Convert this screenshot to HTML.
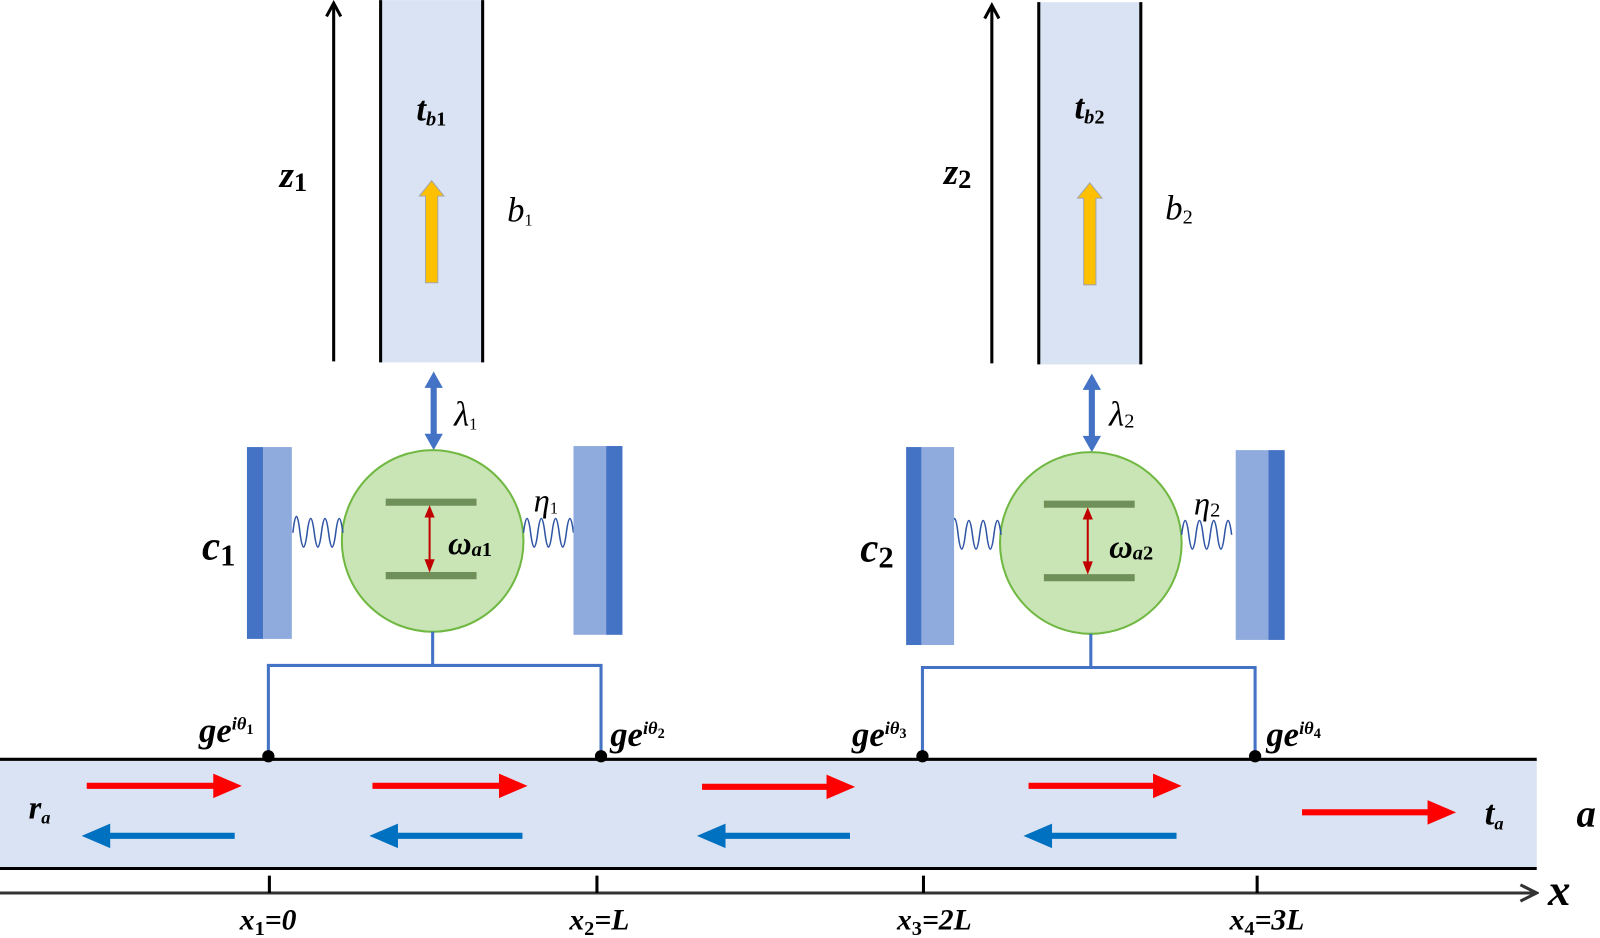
<!DOCTYPE html>
<html><head><style>html,body{margin:0;padding:0;background:#fff}svg{display:block}
svg text{font-family:"Liberation Serif","DejaVu Serif",serif !important;font-style:italic;font-weight:bold}</style></head><body>
<svg width="1600" height="938" viewBox="0 0 1568 919" xmlns="http://www.w3.org/2000/svg" font-family="Liberation Serif, DejaVu Serif, serif">
<defs>
<marker id="ah" markerWidth="14" markerHeight="14" refX="7" refY="2" orient="auto-start-reverse" markerUnits="userSpaceOnUse"><path d="M1,12 L7,1 L13,12" fill="none" stroke="#000" stroke-width="2.5"/></marker>
<marker id="ax" markerWidth="20" markerHeight="20" refX="18" refY="10" orient="auto" markerUnits="userSpaceOnUse"><path d="M2,2 L18,10 L2,18" fill="none" stroke="#333" stroke-width="3"/></marker>
<g id="unit">
<line x1="327" y1="354" x2="327" y2="4" stroke="#000" stroke-width="3"/>
<path d="M320,16 L327,3 L334,16" fill="none" stroke="#000" stroke-width="3"/>
<rect x="372" y="0" width="102" height="355" fill="#dae3f3"/>
<line x1="373" y1="0" x2="373" y2="355" stroke="#000" stroke-width="3"/>
<line x1="473" y1="0" x2="473" y2="355" stroke="#000" stroke-width="3"/>
<path d="M417,277 L417,192 L411,192 L423,177 L435,192 L429,192 L429,277 Z" fill="#ffc000" stroke="#a5a5a5" stroke-width="1"/>
<line x1="425" y1="378" x2="425" y2="427" stroke="#4472c4" stroke-width="6"/>
<path d="M416,380 L425,364 L434,380 Z M416,425 L425,441 L434,425 Z" fill="#4472c4"/>
<circle cx="424" cy="530" r="89" fill="#c9e5b6" stroke="#70b842" stroke-width="2"/>
<line x1="378" y1="492" x2="467" y2="492" stroke="#70905a" stroke-width="7"/>
<line x1="378" y1="564" x2="467" y2="564" stroke="#70905a" stroke-width="7"/>
<line x1="421" y1="505" x2="421" y2="550" stroke="#c00000" stroke-width="2"/>
<path d="M416,507 L421,495 L426,507 Z M416,548 L421,561 L426,548 Z" fill="#c00000"/>
<path d="M287,522 q3.5,-32 7,0 q3.5,28 7,0 q3.5,-28 7,0 q3.5,28 7,0 q3.5,-28 7,0 q3.5,28 7,0 q3.5,-28 7,0" fill="none" stroke="#2f55a4" stroke-width="1.5"/>
<path d="M513,522 q3.5,-28 7,0 q3.5,28 7,0 q3.5,-28 7,0 q3.5,28 7,0 q3.5,-28 7,0 q3.5,28 7,0 q3.5,-28 7,0" fill="none" stroke="#2f55a4" stroke-width="1.5"/>
<line x1="424" y1="619" x2="424" y2="652" stroke="#4472c4" stroke-width="3"/>
</g>
</defs>
<use href="#unit"/>
<use href="#unit" transform="translate(645,2)"/>
<polyline points="263,741 263,652 589,652 589,741" fill="none" stroke="#4472c4" stroke-width="3"/>
<polyline points="904,741 904,654 1230,654 1230,741" fill="none" stroke="#4472c4" stroke-width="3"/>
<!-- mirrors -->
<rect x="242" y="438" width="16" height="188" fill="#4472c4"/><rect x="258" y="438" width="28" height="188" fill="#8faadc"/>
<rect x="562" y="437" width="32" height="185" fill="#8faadc"/><rect x="594" y="437" width="16" height="185" fill="#4472c4"/>
<rect x="888" y="438" width="15" height="194" fill="#4472c4"/><rect x="903" y="438" width="32" height="194" fill="#8faadc"/>
<rect x="1211" y="441" width="32" height="186" fill="#8faadc"/><rect x="1243" y="441" width="16" height="186" fill="#4472c4"/>
<!-- waveguide a -->
<rect x="0" y="744" width="1506" height="107" fill="#dae3f3"/>
<line x1="0" y1="744" x2="1506" y2="744" stroke="#000" stroke-width="3"/>
<line x1="0" y1="851" x2="1506" y2="851" stroke="#000" stroke-width="3"/>
<g fill="#000"><circle cx="263" cy="741" r="6"/><circle cx="589" cy="741" r="6"/><circle cx="904" cy="741" r="6"/><circle cx="1230" cy="741" r="6"/></g>
<g fill="#ff0000">
<path d="M85,767 h124 v-9 l28,12 l-28,12 v-9 h-124z"/>
<path d="M365,767 h124 v-9 l28,12 l-28,12 v-9 h-124z"/>
<path d="M688,768 h122 v-9 l28,12 l-28,12 v-9 h-122z"/>
<path d="M1008,767 h122 v-9 l28,12 l-28,12 v-9 h-122z"/>
<path d="M1276,793 h123 v-9 l28,12 l-28,12 v-9 h-123z"/>
</g>
<g fill="#0070c0">
<path d="M230,816 h-122 v-9 l-28,12 l28,12 v-9 h122z"/>
<path d="M512,816 h-122 v-9 l-28,12 l28,12 v-9 h122z"/>
<path d="M833,816 h-122 v-9 l-28,12 l28,12 v-9 h122z"/>
<path d="M1153,816 h-122 v-9 l-28,12 l28,12 v-9 h122z"/>
</g>
<!-- x axis -->
<line x1="0" y1="875" x2="1506" y2="875" stroke="#333" stroke-width="3" marker-end="url(#ax)"/>
<g stroke="#000" stroke-width="3"><line x1="264" y1="858" x2="264" y2="875"/><line x1="585" y1="858" x2="585" y2="875"/><line x1="905" y1="858" x2="905" y2="875"/><line x1="1232" y1="858" x2="1232" y2="875"/></g>
<!-- labels -->
<text x="274" y="183" font-size="36">z<tspan font-size="26" dy="4" font-style="normal">1</tspan></text>
<text x="925" y="180" font-size="36">z<tspan font-size="26" dy="4" font-style="normal">2</tspan></text>
<text x="408" y="118" font-size="34">t<tspan font-size="20" dy="5">b</tspan><tspan font-size="20" font-style="normal">1</tspan></text>
<text x="1053" y="116" font-size="34">t<tspan font-size="20" dy="5">b</tspan><tspan font-size="20" font-style="normal">2</tspan></text>
<text x="497" y="217" font-size="34" font-weight="normal" style="font-weight:normal">b<tspan font-size="16" dy="4" font-style="normal">1</tspan></text>
<text x="1142" y="215" font-size="34" style="font-weight:normal">b<tspan font-size="20" dy="4" font-style="normal">2</tspan></text>
<text x="445" y="417" font-size="34" style="font-weight:normal">λ<tspan font-size="16" dy="4" font-style="normal">1</tspan></text>
<text x="1087" y="417" font-size="34" style="font-weight:normal">λ<tspan font-size="20" dy="2" font-style="normal">2</tspan></text>
<text x="523" y="501" font-size="32" style="font-weight:normal">η<tspan font-size="16" dy="2" font-style="normal">1</tspan></text>
<text x="1170" y="504" font-size="32" style="font-weight:normal">η<tspan font-size="20" dy="2" font-style="normal">2</tspan></text>
<text x="198" y="548" font-size="40">c<tspan font-size="30" dy="6" font-style="normal">1</tspan></text>
<text x="843" y="550" font-size="40">c<tspan font-size="30" dy="6" font-style="normal">2</tspan></text>
<text x="439" y="543" font-size="32">ω<tspan font-size="20" dy="2">a</tspan><tspan font-size="20" font-style="normal">1</tspan></text>
<text x="1087" y="546" font-size="32">ω<tspan font-size="20" dy="2">a</tspan><tspan font-size="20" font-style="normal">2</tspan></text>
<text x="195" y="727" font-size="34">ge<tspan font-size="18" dy="-12">iθ</tspan><tspan font-size="14" dy="4" font-style="normal">1</tspan></text>
<text x="598" y="731" font-size="34">ge<tspan font-size="18" dy="-12">iθ</tspan><tspan font-size="14" dy="4" font-style="normal">2</tspan></text>
<text x="835" y="731" font-size="34">ge<tspan font-size="18" dy="-12">iθ</tspan><tspan font-size="14" dy="4" font-style="normal">3</tspan></text>
<text x="1241" y="731" font-size="34">ge<tspan font-size="18" dy="-12">iθ</tspan><tspan font-size="14" dy="4" font-style="normal">4</tspan></text>
<text x="28" y="802" font-size="32">r<tspan font-size="18" dy="5">a</tspan></text>
<text x="1455" y="808" font-size="34">t<tspan font-size="18" dy="5">a</tspan></text>
<text x="1545" y="810" font-size="38">a</text>
<text x="1517" y="887" font-size="44">x</text>
<text x="235" y="911" font-size="29">x<tspan font-size="20" dy="5" font-style="normal">1</tspan><tspan dy="-5">=0</tspan></text>
<text x="558" y="911" font-size="29">x<tspan font-size="20" dy="5" font-style="normal">2</tspan><tspan dy="-5">=L</tspan></text>
<text x="879" y="911" font-size="29">x<tspan font-size="20" dy="5" font-style="normal">3</tspan><tspan dy="-5">=2L</tspan></text>
<text x="1205" y="911" font-size="29">x<tspan font-size="20" dy="5" font-style="normal">4</tspan><tspan dy="-5">=3L</tspan></text>
</svg>
</body></html>
